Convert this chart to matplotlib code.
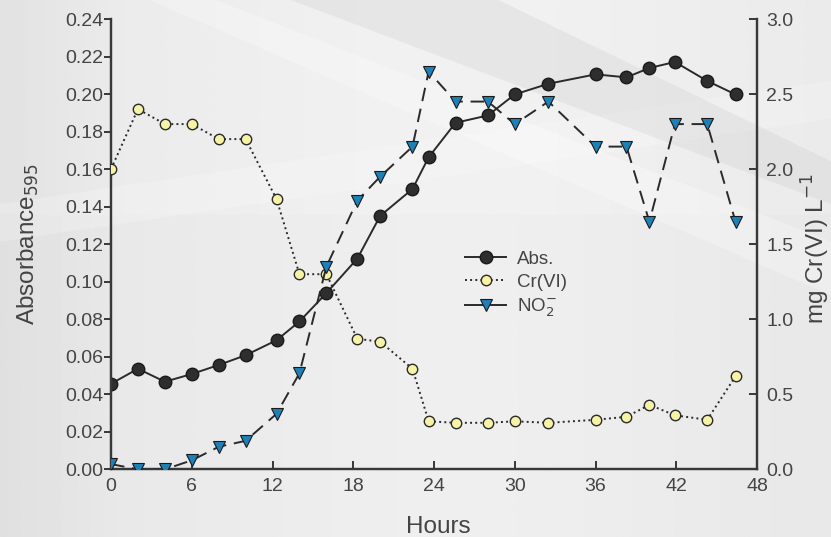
import numpy as np
import matplotlib
matplotlib.use("Agg")
import matplotlib.pyplot as plt
from matplotlib.patches import Polygon
from matplotlib.lines import Line2D

plt.rcParams['font.family'] = ['Liberation Sans', 'DejaVu Sans']

# Datos
horas = [0, 2, 4, 6, 8, 10, 12.3, 14, 16, 18.3, 20, 22.4, 23.6, 25.6, 28, 30,
         32.5, 36, 38.3, 40, 41.9, 44.3, 46.4]
absorbancia = [0.0456, 0.0536, 0.0467, 0.0508, 0.0556, 0.0608, 0.0688, 0.0788,
               0.0939, 0.1123, 0.1351, 0.1494, 0.1663, 0.1847, 0.1886, 0.1998,
               0.2055, 0.2105, 0.2089, 0.2139, 0.2171, 0.2070, 0.1998]
cr_vi = [2.00, 2.40, 2.30, 2.30, 2.20, 2.20, 1.80, 1.30, 1.30, 0.87, 0.85, 0.67,
         0.32, 0.31, 0.31, 0.32, 0.31, 0.33, 0.35, 0.43, 0.36, 0.33, 0.62]
nitrito = [0.035, 0.0, 0.0, 0.06, 0.15, 0.19, 0.37, 0.64, 1.35, 1.79, 1.95, 2.15,
           2.65, 2.45, 2.45, 2.30, 2.45, 2.15, 2.15, 1.65, 2.30, 2.30, 1.65]

fig = plt.figure(figsize=(8.31, 5.37), dpi=100)

# Fondo gris con degradado
bg = fig.add_axes([0, 0, 1, 1], zorder=-10)
xx, yy = np.meshgrid(np.linspace(0, 1, 400), np.linspace(0, 1, 260))
val = 0.905 + 0.03 * np.exp(-((xx - 0.55) ** 2) / 0.12) - 0.03 * (xx < 0.15) * (0.15 - xx) / 0.15
val = val + 0.01 * (yy < 0.4)
bg.imshow(val, cmap="gray", vmin=0, vmax=1, extent=[0, 1, 0, 1], aspect="auto", origin="upper")
bg.add_patch(Polygon([[0.18, 1.0], [0.26, 1.0], [1.0, 0.55], [1.0, 0.45]], closed=True,
                     facecolor="white", alpha=0.25, lw=0))
bg.add_patch(Polygon([[0.0, 0.62], [0.0, 0.55], [0.75, 0.72], [1.0, 0.78], [1.0, 0.85]], closed=True,
                     facecolor="white", alpha=0.2, lw=0))
bg.add_patch(Polygon([[0.35, 1.0], [0.6, 1.0], [1.0, 0.7], [1.0, 0.62]], closed=True,
                     facecolor="#c8c8c8", alpha=0.25, lw=0))
bg.set_xlim(0, 1)
bg.set_ylim(0, 1)
bg.axis("off")

ax = fig.add_axes([0.1336, 0.126, 0.7774, 0.8386])
ax.patch.set_alpha(0)
ax2 = ax.twinx()

color_eje = "#383838"
color_texto = "#444444"

estilo_abs = dict(color="#2a2a2a", lw=1.4, marker="o", ms=9, mfc="#2e2e2e", mec="#1a1a1a")
estilo_cr = dict(color="#2a2a2a", lw=1.4, marker="o", ms=7.5, mfc="#f6f3a6", mec="#2a2a2a", mew=1.0)
estilo_no2 = dict(color="#2a2a2a", lw=1.4, marker="v", ms=8, mfc="#1f80b8", mec="#1a1a1a", mew=0.8)

ax.plot(horas, absorbancia, ls="-", zorder=3, **estilo_abs)
ax2.plot(horas, cr_vi, ls=":", zorder=3, **estilo_cr)
ax2.plot(horas, nitrito, ls=(0, (7, 4)), zorder=3, **estilo_no2)

ax.set_xlim(0, 48)
ax.set_ylim(0, 0.24)
ax2.set_ylim(0, 3.0)
ax.set_xticks(np.arange(0, 49, 6))
ax.set_yticks(np.arange(0, 0.241, 0.02))
ax.set_yticklabels([f"{v:.2f}" for v in np.arange(0, 0.241, 0.02)])
ax2.set_yticks(np.arange(0, 3.01, 0.5))
ax2.set_yticklabels([f"{v:.1f}" for v in np.arange(0, 3.01, 0.5)])

for a in (ax, ax2):
    a.spines["top"].set_visible(False)
    for s in ("left", "right", "bottom"):
        a.spines[s].set_color(color_eje)
        a.spines[s].set_linewidth(1.6)
    a.tick_params(colors=color_eje, labelcolor=color_texto, labelsize=14, width=1.4)

# eje x y derecho con marcas hacia dentro, izquierdo hacia fuera
ax.tick_params(axis="x", direction="in", length=5.5, pad=6.5)
ax.tick_params(axis="y", direction="out", length=5, pad=0.5)
ax2.tick_params(axis="y", direction="in", length=6, pad=6.5)

ax.set_xlabel("Hours", fontsize=17.5, color=color_texto)
ax.set_ylabel("Absorbance$_{595}$", fontsize=17.5, color=color_texto)
ax2.set_ylabel("mg Cr(VI) L$^{-1}$", fontsize=17.5, color=color_texto)
ax.xaxis.set_label_coords(0.507, -0.103)
ax.yaxis.set_label_coords(-0.108, 0.5)
ax2.yaxis.set_label_coords(1.066, 0.491)

# Leyenda (la línea de NO2 aparece continua en la leyenda)
h_abs = Line2D([], [], ls="-", **estilo_abs)
h_cr = Line2D([], [], ls=":", **estilo_cr)
h_no2 = Line2D([], [], ls="-", **estilo_no2)
leg = ax.legend([h_abs, h_cr, h_no2], ["Abs.", "Cr(VI)", "NO$_2^{-}$"], loc="upper left",
                bbox_to_anchor=(0.548, 0.485), frameon=False, fontsize=13.5,
                handlelength=2.2, labelspacing=0.3, handletextpad=0.55,
                borderpad=0, borderaxespad=0)
for t in leg.get_texts():
    t.set_color(color_texto)

fig.savefig("out.png", dpi=100)
